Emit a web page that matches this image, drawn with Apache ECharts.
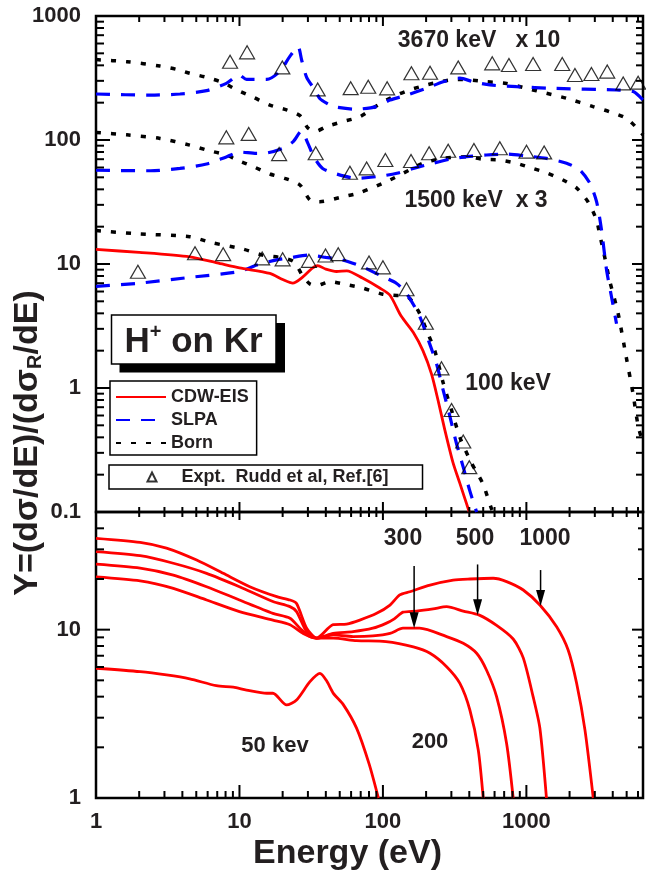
<!DOCTYPE html>
<html>
<head>
<meta charset="utf-8">
<script src="https://cdn.jsdelivr.net/npm/echarts@6/dist/echarts.min.js"></script>
<style>
  html, body { margin: 0; padding: 0; background: #fff; }
  #chart { width: 646px; height: 877px; }
</style>
</head>
<body>
<div id="chart"></div>
<script>
// ---- tick values (energy axis shared by both panels) ----
const xMajorTicks = [1, 10, 100, 1000];
const xMinorTicks = [2, 3, 4, 5, 6, 7, 8, 9, 20, 30, 40, 50, 60, 70, 80, 90,
  200, 300, 400, 500, 600, 700, 800, 900, 2000, 3000, 4000, 5000, 6000];
const yTopMajorTicks = [0.1, 1, 10, 100, 1000];
const yTopMinorTicks = [0.2, 0.3, 0.4, 0.5, 0.6, 0.7, 0.8, 0.9, 2, 3, 4, 5, 6, 7, 8, 9,
  20, 30, 40, 50, 60, 70, 80, 90, 200, 300, 400, 500, 600, 700, 800, 900];
const yBottomMajorTicks = [1, 10];
const yBottomMinorTicks = [2, 3, 4, 5, 6, 7, 8, 9, 20, 30, 40];

// ---- upper panel: 100 keV ----
const cdw100 = [[1, 13.1], [2, 12.4], [4.5, 11.4], [7, 10.2], [10, 9.3], [16.3, 8.4], [20, 7.5],
  [23.5, 7.0], [27.8, 7.9], [32, 9.2], [35, 9.7], [40, 9.1], [47.5, 8.7], [56, 8.8], [72, 7.7],
  [95, 6.4], [112, 5.6], [134, 3.8], [163, 2.8], [190, 2.0], [218, 1.3], [242, 0.8], [270, 0.46],
  [308, 0.25], [344, 0.17], [400, 0.1]];
const slpa100 = [[1, 6.6], [2, 7.0], [4.5, 7.8], [10, 8.7], [13.2, 9.8], [18.2, 10.8], [22.5, 11.2],
  [30, 11.8], [40, 11.3], [52, 10.8], [72, 9.5], [100, 7.9], [124, 7.0], [146, 5.8], [180, 3.8],
  [211, 2.3], [236, 1.58], [263, 0.96], [293, 0.59], [325, 0.36], [363, 0.23], [402, 0.15], [450, 0.1]];
const born100 = [[1, 18.6], [2, 17.5], [4.5, 16.6], [6.5, 14.8], [10.6, 13.2], [14.5, 11.8], [20, 11.2],
  [24, 10.4], [27.8, 7.9], [31, 6.9], [34.6, 6.7], [42.6, 7.2], [56, 6.8], [72, 6.4], [100, 5.7],
  [117, 5.6], [150, 5.4], [180, 4.0], [202, 2.9], [230, 2.0], [263, 1.1], [300, 0.67], [344, 0.4],
  [413, 0.25], [496, 0.17], [570, 0.107], [585, 0.1]];
const expt100 = [[1.96, 8.67], [4.9, 12.2], [7.7, 12.0], [14.4, 11.1], [20, 10.9], [30.5, 10.6],
  [39.8, 11.7], [48.8, 12.0], [80, 10.3], [100, 9.4], [146, 6.25], [199, 3.36], [256, 1.44],
  [301, 0.665], [363, 0.37], [400, 0.23]];

// ---- upper panel: 1500 keV (x 3) ----
const slpa1500 = [[1, 57], [2.4, 56.5], [3.85, 59], [5.9, 64], [8.1, 73], [10, 80], [13.1, 78],
  [15.5, 78.6], [20.2, 86], [23.7, 97], [27, 118], [30, 94], [33, 73], [38, 59], [47.5, 53.2],
  [65.5, 49.1], [90, 50.6], [125, 53.9], [163, 59], [224, 65], [293, 70], [383, 73.3], [527, 75.7],
  [728, 77], [1002, 74.3], [1382, 71.1], [1905, 65], [2360, 57.3], [2770, 44.8], [3085, 31.8],
  [3340, 18.8], [3620, 9.0], [3920, 5.45], [4250, 3.3]];
const born1500 = [[1, 115], [1.64, 110], [2.79, 103], [4.5, 91], [5.9, 83], [8.1, 75.7], [9.6, 69],
  [12.5, 61], [16.3, 53.2], [20.7, 49.1], [26.4, 43.4], [31, 32.8], [36.4, 31.8], [52.8, 34.9],
  [69, 37.6], [112, 47.6], [153, 57.3], [190, 64.9], [263, 71.1], [383, 73.3], [495, 69.9],
  [650, 69], [855, 64.9], [1110, 59], [1380, 54.4], [1800, 47.6], [2250, 40.8], [2700, 31.5],
  [3085, 22.6], [3250, 17.1], [3430, 13], [3800, 7.4], [4360, 4.0], [4960, 1.79], [5530, 0.91],
  [6020, 0.49], [6500, 0.36]];
const expt1500 = [[8.1, 105], [11.6, 112], [18.9, 77], [34, 78.2], [58.9, 54.5], [77, 59], [104, 69],
  [157, 67.7], [210, 78.2], [285, 82], [431, 83], [653, 85.7], [1002, 80.5], [1330, 79.4]];

// ---- upper panel: 3670 keV (x 10) ----
const slpa3670 = [[1, 235], [2.4, 230], [3.85, 235], [5.9, 250], [8.1, 286], [10, 334], [11.2, 308],
  [15.5, 308], [19, 355], [22.4, 470], [25.6, 565], [27.1, 444], [29.4, 320], [33.6, 253], [36.4, 215],
  [41.5, 195], [45, 186], [64, 177], [90, 186], [112, 210], [146, 230], [201, 261], [263, 295],
  [344, 315], [426, 295], [557, 278], [855, 269], [1538, 261], [4250, 253], [5560, 246], [6500, 210]];
const born3670 = [[1, 445], [1.64, 428], [2.79, 395], [3.65, 371], [4.5, 345], [5.9, 320], [7.7, 290],
  [9.6, 253], [12.5, 221], [16.3, 191], [21.3, 175], [26.4, 157], [30, 125], [33.6, 117], [40.3, 128],
  [52.8, 141], [69, 154], [90, 188], [117, 223], [153, 253], [201, 278], [250, 295], [325, 308],
  [401, 305], [527, 295], [728, 286], [1000, 261], [1382, 238], [1905, 217], [2920, 186], [3800, 169],
  [4960, 150], [6100, 120], [6500, 110]];
const expt3670 = [[8.6, 428], [11.3, 509], [19.9, 385], [35.1, 256], [59.6, 262], [79, 269], [107, 261],
  [158, 345], [213, 349], [335, 385], [578, 415], [756, 403], [1114, 410], [1778, 410], [2180, 334],
  [2840, 341], [3660, 356], [4730, 286], [6010, 290]];

// ---- lower panel: CDW-EIS at several projectile energies ----
const cdw1000 = [[1, 34.9], [2.03, 33.0], [3.1, 30.5], [5.03, 25.9], [7.7, 21.6], [11.8, 18], [18.2, 15.7],
  [22.5, 15], [25, 14.3], [29.4, 10.2], [34.5, 8.9], [45, 10.7], [55.8, 10.8], [69, 11.4], [90.4, 12.5],
  [112, 14], [131, 16.1], [154, 16.8], [213, 18.4], [309, 19.7], [404, 20], [587, 20.2], [728, 19.3],
  [951, 17.2], [1242, 14], [1625, 10.4], [1955, 7.57], [2240, 4.8], [2560, 2.54], [2925, 1.0]];
const cdw500 = [[1, 29.1], [2.03, 27.5], [3.46, 24.8], [5.9, 21.6], [10, 18], [17.1, 14.7], [22.5, 13.7],
  [25, 12.8], [29.4, 9.73], [34.5, 8.9], [45, 9.5], [62, 9.73], [85, 10.2], [105, 10.9], [120, 11.6],
  [138, 12.7], [171, 12.9], [224, 13.3], [278, 13.7], [363, 12.9], [470, 12.2], [620, 10.6],
  [809, 8.8], [951, 6.8], [1114, 4.0], [1242, 2.6], [1380, 1.0]];
const cdw300 = [[1, 24.5], [2.03, 23.2], [3.46, 21.1], [5.9, 18], [10, 15], [17.1, 12.5], [22.5, 11.7],
  [26.4, 10.2], [31, 9.09], [34.5, 8.9], [45, 9.3], [62, 9.1], [85, 9.18], [112, 9.5], [138, 10.2],
  [180, 10.2], [278, 9.1], [363, 8.3], [450, 7.24], [527, 5.76], [620, 4.0], [728, 2.11], [809, 1.0]];
const cdw200 = [[1, 20.6], [2.03, 19.5], [3.46, 17.6], [5.9, 15], [10, 12.8], [17.1, 11.4], [22.5, 10.7],
  [27.8, 9.5], [34.5, 8.9], [45, 8.9], [65.5, 8.6], [105, 8.5], [163, 7.9], [213, 7.24], [278, 6.03],
  [344, 4.8], [404, 3.33], [462, 1.93], [500, 1.0]];
const cdw50 = [[1, 5.9], [2.03, 5.63], [3.1, 5.38], [4.5, 5.1], [6.9, 4.65], [9.05, 4.55], [11.2, 4.38],
  [15.5, 4.19], [17.1, 4.19], [21.3, 3.57], [25, 3.82], [31, 4.91], [36.4, 5.5], [40.3, 5.0], [45, 4.2],
  [52.8, 3.6], [65.5, 2.6], [80, 1.6], [93, 1.0]];

// arrows marking peak positions: [energy, y at tail, y at head]
const arrowMarks = [[165, 23.9, 10.2], [457, 24.4, 12.2], [1256, 22.6, 13.8]];

const FONT = "'Liberation Sans', Arial, Helvetica, sans-serif";
const INK = '#231f20';
const RED = '#ff0000', BLUE = '#0000ff', BLACK = '#000000';
const EXPT = 'Expt.  Rudd et al, Ref.[6]';

function decadeLabel(v) {
  const lg = Math.log10(v);
  const e = Math.round(lg);
  if (Math.abs(lg - e) > 1e-6) return '';
  return e < 0 ? Math.pow(10, e).toFixed(-e) : String(Math.round(Math.pow(10, e)));
}

function curve(name, data, grid, color, dash, width, z) {
  return {
    type: 'line', name, data, xAxisIndex: grid, yAxisIndex: grid,
    symbol: 'none', smooth: 0.25, z: z,
    lineStyle: { color, width, type: dash, cap: 'butt' },
    itemStyle: { color }
  };
}
function points(data) {
  return {
    type: 'scatter', name: EXPT, data, xAxisIndex: 0, yAxisIndex: 0,
    symbol: 'triangle', symbolSize: [15, 13], z: 6,
    itemStyle: { color: 'rgba(0,0,0,0)', borderColor: BLACK, borderWidth: 1.2 }
  };
}

// tick marks drawn inward on all four sides of a panel
function tickSeries(grid, xTicks, yTicks, len) {
  const data = [];
  xTicks.major.forEach(v => data.push([v, yTicks.ref, 0, 1]));
  xTicks.minor.forEach(v => data.push([v, yTicks.ref, 0, 0]));
  yTicks.major.forEach(v => data.push([1, v, 1, 1]));
  yTicks.minor.forEach(v => data.push([1, v, 1, 0]));
  return {
    type: 'custom', xAxisIndex: grid, yAxisIndex: grid, data, silent: true, z: 10,
    renderItem(params, api) {
      const cs = params.coordSys;
      const p = api.coord([api.value(0), api.value(1)]);
      const k = api.value(3) ? 0 : 1;
      const segs = [];
      if (api.value(2) === 0) {
        segs.push([p[0], cs.y, p[0], cs.y + len.top[k]]);
        segs.push([p[0], cs.y + cs.height, p[0], cs.y + cs.height - len.bottom[k]]);
      } else {
        segs.push([cs.x, p[1], cs.x + len.left[k], p[1]]);
        segs.push([cs.x + cs.width, p[1], cs.x + cs.width - len.right[k], p[1]]);
      }
      return {
        type: 'group',
        children: segs.map(s => ({
          type: 'line', shape: { x1: s[0], y1: s[1], x2: s[2], y2: s[3] },
          style: { stroke: BLACK, lineWidth: 2 }
        }))
      };
    }
  };
}

const arrowSeries = {
  type: 'custom', xAxisIndex: 1, yAxisIndex: 1, data: arrowMarks, silent: true, z: 8,
  encode: { x: 0, y: [1, 2] },
  renderItem(params, api) {
    const a = api.coord([api.value(0), api.value(1)]);
    const b = api.coord([api.value(0), api.value(2)]);
    const h = 16, w = 4.5;
    return {
      type: 'group',
      children: [
        { type: 'line', shape: { x1: a[0], y1: a[1], x2: b[0], y2: b[1] - h + 2 },
          style: { stroke: BLACK, lineWidth: 1.5 } },
        { type: 'polygon', shape: { points: [[b[0], b[1]], [b[0] - w, b[1] - h], [b[0] + w, b[1] - h]] },
          style: { fill: BLACK } }
      ]
    };
  }
};

const axisText = { fontSize: 22, fontWeight: 'bold', fontFamily: FONT, color: INK };
const legendText = { fontSize: 18, fontWeight: 'bold', fontFamily: FONT, color: INK };

function logX(grid, showLabels) {
  return {
    type: 'log', logBase: 10, gridIndex: grid, min: 1, max: 6500,
    axisLine: { show: false }, axisTick: { show: false }, splitLine: { show: false },
    axisLabel: Object.assign({ show: showLabels, margin: 13, formatter: decadeLabel,
      showMinLabel: true, showMaxLabel: true }, axisText)
  };
}
function logY(grid, min, max) {
  return {
    type: 'log', logBase: 10, gridIndex: grid, min, max,
    axisLine: { show: false }, axisTick: { show: false }, splitLine: { show: false },
    axisLabel: Object.assign({ margin: 15, formatter: decadeLabel,
      showMinLabel: true, showMaxLabel: true }, axisText)
  };
}

function note(text, x, y, size) {
  return { type: 'text', x, y, z: 100,
    style: { text, fill: INK, font: `bold ${size}px ${FONT}`, align: 'center', verticalAlign: 'middle' } };
}

const chart = echarts.init(document.getElementById('chart'), null, { renderer: 'canvas' });

chart.setOption({
  animation: false,
  backgroundColor: '#ffffff',
  grid: [
    { left: 96, top: 16, width: 547, height: 496, show: true, borderColor: BLACK, borderWidth: 2.5,
      backgroundColor: 'rgba(0,0,0,0)' },
    { left: 96, top: 512, width: 547, height: 286, show: true, borderColor: BLACK, borderWidth: 2.5,
      backgroundColor: 'rgba(0,0,0,0)' }
  ],
  xAxis: [logX(0, false), logX(1, true)],
  yAxis: [logY(0, 0.1, 1000), logY(1, 1, 50)],
  legend: [
    {
      data: ['CDW-EIS', 'SLPA', 'Born'], orient: 'vertical', left: 110, top: 381,
      itemWidth: 50, itemHeight: 14, itemGap: 5, padding: [7, 8, 3, 5],
      itemStyle: { color: 'rgba(0,0,0,0)', borderWidth: 0, opacity: 0 },
      borderColor: BLACK, borderWidth: 1.5, backgroundColor: '#ffffff', selectedMode: false,
      textStyle: legendText
    },
    {
      data: [EXPT], left: 109, top: 465, itemWidth: 9, itemHeight: 9,
      padding: [3, 34, 3, 37.5], formatter: '    {name}',
      borderColor: BLACK, borderWidth: 1.5, backgroundColor: '#ffffff', selectedMode: false,
      textStyle: legendText
    }
  ],
  graphic: [
    // "H+ on Kr" box with drop shadow
    { type: 'rect', shape: { x: 119.5, y: 323, width: 165.5, height: 49.5 }, style: { fill: BLACK }, z: 90 },
    { type: 'rect', shape: { x: 111.5, y: 315, width: 164.5, height: 49 },
      style: { fill: '#ffffff', stroke: BLACK, lineWidth: 1.5 }, z: 91 },
    { type: 'text', x: 193.5, y: 342, z: 92,
      style: {
        text: '{b|H}{s|+}{b| on Kr}', align: 'center', verticalAlign: 'middle',
        rich: {
          b: { fontSize: 35, fontWeight: 'bold', fontFamily: FONT, fill: INK, lineHeight: 40 },
          s: { fontSize: 20, fontWeight: 'bold', fontFamily: FONT, fill: INK, lineHeight: 20, verticalAlign: 'top' }
        }
      } },
    note('3670 keV   x 10', 479, 41, 23),
    note('1500 keV  x 3', 476, 201, 23),
    note('100 keV', 508, 384, 23),
    note('300', 403, 539, 23),
    note('500', 475, 539, 23),
    note('1000', 545, 539, 23),
    note('50 kev', 275, 746, 22),
    note('200', 430, 742, 22),
    // axis titles
    note('Energy (eV)', 347.5, 854, 34),
    { type: 'text', x: 27.5, y: 443, rotation: Math.PI / 2, z: 100,
      style: {
        text: '{m|Y=(dσ/dE)/(dσ}{r|R}{m|/dE)}', align: 'center', verticalAlign: 'middle',
        rich: {
          m: { fontSize: 34, fontWeight: 'bold', fontFamily: FONT, fill: INK, lineHeight: 36 },
          r: { fontSize: 20, fontWeight: 'bold', fontFamily: FONT, fill: INK, lineHeight: 14, verticalAlign: 'bottom' }
        }
      } }
  ],
  series: [
    curve('Born', born100, 0, BLACK, [5, 10], 3.5, 3),
    curve('Born', born1500, 0, BLACK, [5, 10], 3.5, 3),
    curve('Born', born3670, 0, BLACK, [5, 10], 3.5, 3),
    curve('SLPA', slpa100, 0, BLUE, [14, 11], 3.2, 4),
    curve('SLPA', slpa1500, 0, BLUE, [14, 11], 3.2, 4),
    curve('SLPA', slpa3670, 0, BLUE, [14, 11], 3.2, 4),
    curve('CDW-EIS', cdw100, 0, RED, 'solid', 2.8, 5),
    points(expt100), points(expt1500), points(expt3670),
    curve('CDW-EIS', cdw50, 1, RED, 'solid', 2.8, 5),
    curve('CDW-EIS', cdw200, 1, RED, 'solid', 2.8, 5),
    curve('CDW-EIS', cdw300, 1, RED, 'solid', 2.8, 5),
    curve('CDW-EIS', cdw500, 1, RED, 'solid', 2.8, 5),
    curve('CDW-EIS', cdw1000, 1, RED, 'solid', 2.8, 5),
    arrowSeries,
    tickSeries(0, { major: xMajorTicks, minor: xMinorTicks },
      { major: yTopMajorTicks, minor: yTopMinorTicks, ref: 1 },
      { top: [10, 6], bottom: [10, 5], left: [14, 8], right: [11, 7] }),
    tickSeries(1, { major: xMajorTicks, minor: xMinorTicks },
      { major: yBottomMajorTicks, minor: yBottomMinorTicks, ref: 1 },
      { top: [8, 5], bottom: [13, 7], left: [14, 8], right: [11, 5] })
  ]
});
</script>
</body>
</html>
